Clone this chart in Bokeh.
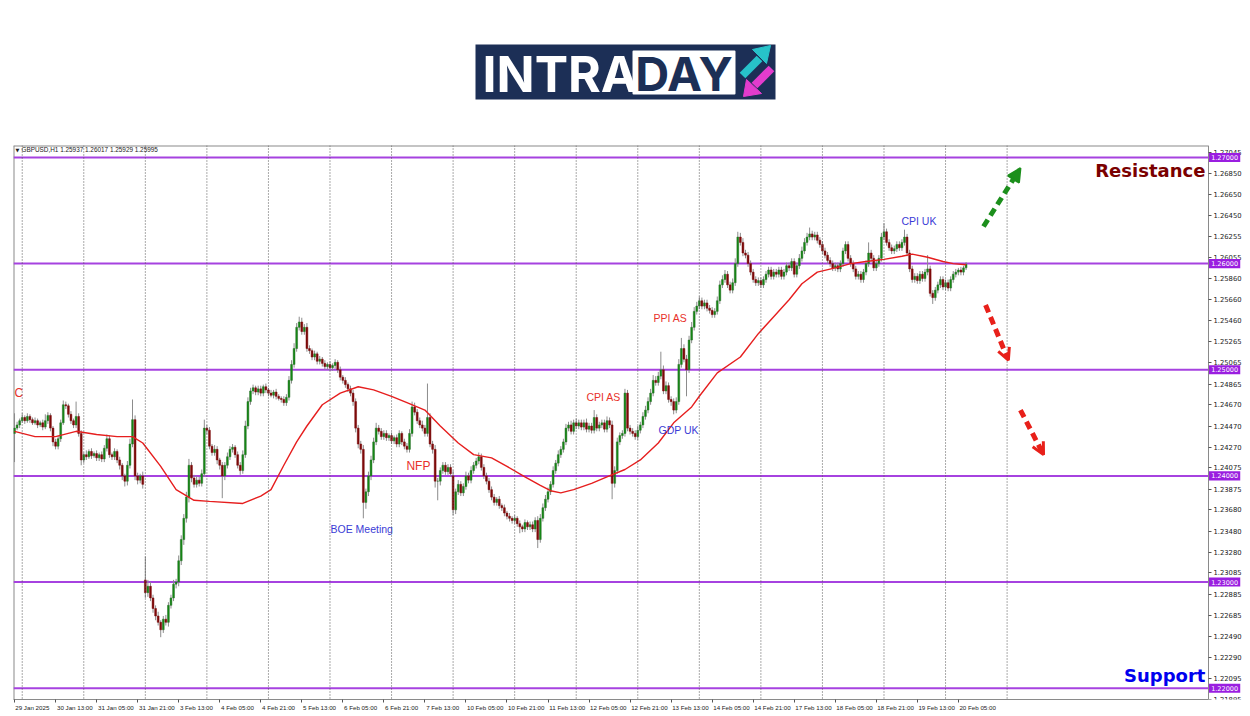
from bokeh.plotting import figure
from bokeh.models import Range1d, FixedTicker, NumeralTickFormatter, Span, Arrow, NormalHead, OpenHead, ColumnDataSource
from bokeh.layouts import column
from bokeh.embed import file_html
from bokeh.resources import INLINE
from bokeh.core.properties import value

# ---------------- data (GBPUSD H1) ----------------
closes = [
    1.2445, 1.2448, 1.2452, 1.2455, 1.2452, 1.2456, 1.2453, 1.2450, 1.2452, 1.2448, 1.2450, 1.2446,
    1.2452, 1.2457, 1.2445, 1.2432, 1.2428, 1.2435, 1.2450, 1.2467, 1.2466, 1.2458, 1.2452, 1.2448,
    1.2456, 1.2440, 1.2415, 1.2420, 1.2418, 1.2423, 1.2419, 1.2421, 1.2417, 1.2420, 1.2416, 1.2426,
    1.2435, 1.2420, 1.2418, 1.2423, 1.2415, 1.2410, 1.2400, 1.2395, 1.2410, 1.2430, 1.2453, 1.2400,
    1.2396, 1.2400, 1.2392, 1.2290, 1.2296, 1.2285, 1.2275, 1.2268, 1.2262, 1.2255, 1.2265, 1.2262,
    1.2278, 1.2285, 1.2298, 1.2300, 1.2320, 1.2340, 1.2360, 1.2380, 1.2410, 1.2398, 1.2392, 1.2396,
    1.2393, 1.2402, 1.2445, 1.2443, 1.2428, 1.2422, 1.2425, 1.2415, 1.2410, 1.2400, 1.2410, 1.2418,
    1.2425, 1.2427, 1.2420, 1.2410, 1.2405, 1.2420, 1.2447, 1.2470, 1.2480, 1.2483, 1.2479, 1.2482,
    1.2478, 1.2484, 1.2481, 1.2478, 1.2476, 1.2479, 1.2475, 1.2473, 1.2472, 1.2469, 1.2474, 1.2490,
    1.2505, 1.2520, 1.2540, 1.2545, 1.2536, 1.2540, 1.2520, 1.2518, 1.2512, 1.2515, 1.2508, 1.2510,
    1.2506, 1.2503, 1.2505, 1.2502, 1.2504, 1.2507, 1.2500, 1.2493, 1.2490, 1.2486, 1.2482, 1.2478,
    1.2470, 1.2445, 1.2430, 1.2425, 1.2375, 1.2385, 1.2400, 1.2415, 1.2432, 1.2445, 1.2442, 1.2437,
    1.2440, 1.2436, 1.2438, 1.2433, 1.2436, 1.2430, 1.2440, 1.2432, 1.2428, 1.2425, 1.2440, 1.2465,
    1.2460, 1.2452, 1.2448, 1.2445, 1.2440, 1.2455, 1.2430, 1.2425, 1.2395, 1.2395, 1.2405, 1.2410,
    1.2404, 1.2408, 1.2402, 1.2368, 1.2385, 1.2392, 1.2384, 1.2390, 1.2400, 1.2396, 1.2405, 1.2410,
    1.2414, 1.2418, 1.2408, 1.2400, 1.2395, 1.2387, 1.2380, 1.2375, 1.2378, 1.2372, 1.2370, 1.2365,
    1.2362, 1.2360, 1.2358, 1.2360, 1.2355, 1.2352, 1.2350, 1.2356, 1.2352, 1.2354, 1.2350, 1.2358,
    1.2340, 1.2360, 1.2370, 1.2378, 1.2385, 1.2392, 1.2405, 1.2412, 1.2420, 1.2425, 1.2432, 1.2445,
    1.2448, 1.2442, 1.2450, 1.2447, 1.2450, 1.2446, 1.2450, 1.2444, 1.2447, 1.2443, 1.2455, 1.2445,
    1.2448, 1.2450, 1.2444, 1.2452, 1.2448, 1.2393, 1.2405, 1.2432, 1.2438, 1.2440, 1.2478, 1.2445,
    1.2442, 1.2440, 1.2437, 1.2443, 1.2448, 1.2456, 1.2462, 1.2470, 1.2478, 1.2490, 1.2488, 1.2494,
    1.2500, 1.2480, 1.2485, 1.2472, 1.2470, 1.2462, 1.2470, 1.2505, 1.2520, 1.2510, 1.2500, 1.2528,
    1.2540, 1.2555, 1.2560, 1.2565, 1.2560, 1.2563, 1.2558, 1.2556, 1.2552, 1.2555, 1.2565, 1.2580,
    1.2585, 1.2590, 1.2580, 1.2575, 1.2582, 1.2600, 1.2625, 1.2620, 1.2610, 1.2608, 1.2600, 1.2592,
    1.2585, 1.2582, 1.2584, 1.2580, 1.2585, 1.2590, 1.2594, 1.2588, 1.2592, 1.2590, 1.2594, 1.2588,
    1.2592, 1.2598, 1.2596, 1.2602, 1.2590, 1.2598, 1.2605, 1.2612, 1.2620, 1.2625, 1.2628, 1.2625,
    1.2627, 1.2622, 1.2618, 1.2612, 1.2608, 1.2603, 1.2600, 1.2596, 1.2598, 1.2595, 1.2600, 1.2612,
    1.2618, 1.2605, 1.2600, 1.2595, 1.2588, 1.2590, 1.2585, 1.2592, 1.2600, 1.2610, 1.2605, 1.2596,
    1.2600, 1.2605, 1.2625, 1.2630, 1.2620, 1.2615, 1.2612, 1.2614, 1.2618, 1.2615, 1.2620, 1.2625,
    1.2610, 1.2595, 1.2585, 1.2588, 1.2584, 1.2590, 1.2586, 1.2592, 1.2595, 1.2572, 1.2568, 1.2575,
    1.2580, 1.2585, 1.2578, 1.2582, 1.2577, 1.2585, 1.2590, 1.2592, 1.2594, 1.2592, 1.2596, 1.25995,
]
# opens that are not equal to the previous close (first bar and weekend gaps)
gap_opens = {0: 1.2440, 51: 1.2302, 171: 1.2400}
# wick lengths in pips above / below the body
upper_wick = [
    14,3,2,4,2,3,2,2,3,2,2,3,6,3,2,2,3,3,3,4,3,2,3,2,
    14,3,3,2,4,2,3,2,3,2,3,3,4,3,2,3,2,3,2,2,4,5,19,4,
    3,2,4,22,6,4,3,3,4,2,3,4,3,3,4,3,5,4,4,5,6,3,3,4,
    3,4,8,3,3,2,4,3,2,3,3,4,3,3,2,3,3,4,5,4,3,3,2,3,
    3,2,3,2,3,2,3,2,2,3,3,4,4,5,4,5,4,3,4,3,2,3,2,3,
    2,3,2,3,2,3,2,3,2,3,2,3,3,3,3,3,4,3,4,4,4,5,3,3,
    3,3,2,3,2,3,3,2,3,3,4,5,4,3,3,4,3,32,4,3,4,3,3,3,
    3,3,3,5,3,4,3,3,4,3,4,3,3,4,3,3,3,3,3,3,2,3,2,3,
    2,3,2,3,2,3,2,3,2,3,3,3,4,4,4,4,4,3,4,3,4,3,3,4,
    3,4,3,4,3,3,3,4,3,3,7,3,3,3,3,4,3,4,4,4,3,3,4,3,
    3,3,3,4,3,4,4,4,4,5,4,4,17,4,4,3,3,3,4,5,10,4,4,4,
    5,4,4,4,3,3,3,3,3,3,4,4,4,4,3,3,4,5,5,4,4,3,3,3,
    3,3,3,3,3,3,3,3,3,3,3,3,3,3,3,3,3,3,4,4,4,4,6,3,
    3,3,3,3,3,3,3,3,3,3,3,3,3,3,3,3,3,3,3,3,3,10,3,3,
    3,3,4,8,3,3,3,3,3,3,3,7,3,3,3,3,3,3,3,3,13,3,3,3,
    3,3,3,3,3,3,3,3,2,3,2,2,
]
lower_wick = [
    27,2,3,2,3,2,3,2,2,3,2,3,2,3,3,4,3,3,3,2,3,3,3,3,
    3,3,5,3,3,2,3,2,3,3,3,3,3,3,3,3,3,4,4,5,4,3,3,4,
    4,3,4,5,4,3,4,4,3,7,3,3,4,3,3,4,4,4,5,4,5,4,3,3,
    3,3,3,4,3,3,3,4,4,21,4,3,3,3,3,3,4,3,3,3,3,3,3,3,
    3,3,3,3,2,3,3,2,3,3,3,3,3,3,3,3,3,3,3,3,3,3,3,3,
    3,3,3,3,3,3,3,3,3,3,3,3,4,4,4,4,15,6,4,4,3,3,3,3,
    3,3,3,3,3,3,3,3,3,3,3,3,3,3,3,3,3,3,3,4,6,18,4,3,
    3,3,3,5,4,3,3,3,3,3,3,3,3,3,3,3,3,3,3,3,3,3,3,3,
    3,3,3,3,3,6,3,3,3,3,3,3,8,3,3,3,3,3,3,3,3,3,3,3,
    3,3,3,3,3,3,3,3,3,3,3,3,3,3,3,3,3,15,4,3,3,3,3,3,
    3,3,3,3,3,3,3,3,3,3,3,3,3,3,3,3,4,4,3,3,3,3,25,3,
    3,3,3,3,3,3,3,3,3,3,3,3,3,3,3,3,3,3,3,3,3,3,3,3,
    3,3,3,3,3,3,3,3,3,3,3,3,3,3,3,3,3,3,3,3,3,3,3,3,
    3,3,3,3,3,3,3,3,3,3,3,3,3,3,3,3,3,3,3,3,3,3,3,3,
    3,3,3,3,3,3,3,3,3,3,3,3,3,3,3,3,3,3,3,3,3,3,6,3,
    3,3,3,3,3,3,3,3,3,3,3,2,
]
# moving average (bar index, value)
ma_idx = [0, 8, 16, 24, 32, 40, 46, 50, 57, 63, 70, 76, 89, 96, 100, 105, 110, 114, 120, 127,
          134, 140, 147, 153, 160, 166, 173, 179, 186, 192, 199, 205, 209, 213, 218, 225, 231,
          238, 244, 251, 257, 264, 267, 274, 283, 290, 296, 302, 307, 313, 320, 326, 332, 339,
          346, 350, 356, 362, 366, 371]
ma_val = [1.2442, 1.2437, 1.2437, 1.2442, 1.2439, 1.2437, 1.2437, 1.2431, 1.2409, 1.2387,
          1.2377, 1.2376, 1.2374, 1.2381, 1.2387, 1.2410, 1.2432, 1.2447, 1.2467, 1.2478,
          1.2484, 1.2481, 1.2475, 1.2469, 1.2462, 1.2447, 1.2431, 1.2420, 1.2417, 1.2409,
          1.2399, 1.2391, 1.2386, 1.2384, 1.2387, 1.2393, 1.2399, 1.2406, 1.2415, 1.2431,
          1.2450, 1.2465, 1.2475, 1.2497, 1.2512, 1.2534, 1.2550, 1.2566, 1.2581, 1.2592,
          1.2596, 1.2600, 1.2602, 1.2604, 1.2607, 1.2609, 1.2606, 1.2602, 1.2600, 1.2599]

x_tick_idx = list(range(0, 369, 16))
x_tick_labels = ["29 Jan 2025", "30 Jan 13:00", "31 Jan 05:00", "31 Jan 21:00", "3 Feb 13:00",
                 "4 Feb 05:00", "4 Feb 21:00", "5 Feb 13:00", "6 Feb 05:00", "6 Feb 21:00",
                 "7 Feb 13:00", "10 Feb 05:00", "10 Feb 21:00", "11 Feb 13:00", "12 Feb 05:00",
                 "12 Feb 21:00", "13 Feb 13:00", "14 Feb 05:00", "14 Feb 21:00", "17 Feb 13:00",
                 "18 Feb 05:00", "18 Feb 21:00", "19 Feb 13:00", "20 Feb 05:00"]
y_ticks = [1.27045, 1.26850, 1.26650, 1.26450, 1.26255, 1.26055, 1.25860, 1.25660, 1.25460,
           1.25265, 1.25065, 1.24865, 1.24670, 1.24470, 1.24270, 1.24075, 1.23875, 1.23680,
           1.23480, 1.23280, 1.23085, 1.22885, 1.22685, 1.22490, 1.22290, 1.22095, 1.21895]
levels = [1.27, 1.26, 1.25, 1.24, 1.23, 1.22]
level_labels = ["1.27000", "1.26000", "1.25000", "1.24000", "1.23000", "1.22000"]

header = "GBPUSD,H1  1.25937 1.26017 1.25929 1.25995"
event_text = ["C", "BOE Meeting", "NFP", "CPI AS", "PPI AS", "GDP UK", "CPI UK"]
event_x = [0, 123.2, 152.8, 223, 249.1, 251.1, 345.8]
event_y = [1.2478, 1.2350, 1.2409, 1.2474, 1.2549, 1.2443, 1.2640]
event_color = ["#e8312a", "#3b3bd6", "#e8312a", "#e8312a", "#e8312a", "#3b3bd6", "#3b3bd6"]
event_size = ["12px", "10.5px", "12px", "10.5px", "10.5px", "10.5px", "10.5px"]

# forecast arrows: (x0, y0, x1, y1, color)
arrows = [(377.8, 1.2635, 392.2, 1.2690, "#1c8f1c"),
          (378.6, 1.2561, 387.5, 1.2509, "#e8201a"),
          (392.2, 1.2462, 401.2, 1.2420, "#e8201a")]

# ---------------- derived candle table ----------------
n = min(len(closes), len(upper_wick), len(lower_wick))
idx = list(range(n))
opens = [gap_opens[i] if i in gap_opens else closes[i - 1] for i in idx]
cl = closes[:n]
tops = [max(o, c) for o, c in zip(opens, cl)]
bots = [min(o, c) for o, c in zip(opens, cl)]
highs = [t + u / 10000 for t, u in zip(tops, upper_wick)]
lows = [b - l / 10000 for b, l in zip(bots, lower_wick)]
bull = [c >= o for o, c in zip(opens, cl)]

src_bull = ColumnDataSource(dict(x=[i for i in idx if bull[i]], top=[tops[i] for i in idx if bull[i]],
                                 bottom=[bots[i] for i in idx if bull[i]]))
src_bear = ColumnDataSource(dict(x=[i for i in idx if not bull[i]], top=[tops[i] for i in idx if not bull[i]],
                                 bottom=[bots[i] for i in idx if not bull[i]]))

W = 1250
LOGO_H = 145
CH_H = 571
PX_PER_BAR = 2.565
X0, X_AXIS, X1 = -0.4, 465.5, 481.9      # frame left, price-axis position, frame right (bar units)
Y0, Y1 = 1.21893, 1.27113

# MT4 style: time labels start at their tick -> centre each label half its width to the right
label_pos = [round(t + (len(s) * 3.05 / 2 + 1) / PX_PER_BAR, 3) for t, s in zip(x_tick_idx, x_tick_labels)]

# ---------------- logo figure (pixel coordinates) ----------------
lg = figure(width=W, height=LOGO_H, x_range=Range1d(13, 1250), y_range=Range1d(LOGO_H, 0),
            output_backend="svg", toolbar_location=None, x_axis_location=None, y_axis_location=None,
            min_border_left=13, min_border_right=0, min_border_top=0, min_border_bottom=0,
            outline_line_color=None)
lg.xgrid.visible = False
lg.ygrid.visible = False
navy = "#1c2f56"
lg.quad(left=[475], right=[775], top=[44], bottom=[99], fill_color=navy, line_color=None)
lg.quad(left=[633], right=[734], top=[51], bottom=[93], fill_color="white", line_color="white",
        line_width=2, line_join="round")
lg.text(x=[482], y=[73], text=["INTRA"], text_color="white", text_font=value("Inter"),
        text_font_style="bold", text_font_size="50px", text_baseline="middle", text_align="left")
lg.text(x=[683.5], y=[73], text=["DAY"], text_color=navy, text_font=value("Inter"),
        text_font_style="bold", text_font_size="47px", text_baseline="middle", text_align="center")
# cyan arrow (up-right)
lg.line(x=[742, 759], y=[75, 58], line_color="#27c2c9", line_width=8)
lg.patch(x=[770, 752, 766], y=[45, 49, 63], fill_color="#27c2c9", line_color="#27c2c9")
# magenta arrow (down-left)
lg.line(x=[771, 754], y=[68, 85], line_color="#e23ccd", line_width=8)
lg.patch(x=[743, 746, 761], y=[96, 79, 93], fill_color="#e23ccd", line_color="#e23ccd")

# ---------------- chart figure ----------------
p = figure(width=W, height=CH_H, x_range=Range1d(X0, X1), y_range=Range1d(Y0, Y1),
           output_backend="svg", toolbar_location=None, y_axis_location="right",
           min_border_left=13, min_border_top=0, min_border_right=0, min_border_bottom=17,
           background_fill_color="white", border_fill_color="white")
p.outline_line_color = None
p.xgrid.visible = False
p.ygrid.visible = False

for ax in (p.xaxis[0], p.yaxis[0]):
    ax.axis_line_color = "#8a8a8a"
    ax.major_tick_line_color = "#555555"
    ax.minor_tick_line_color = None
    ax.major_tick_in = 0
    ax.major_tick_out = 3
    ax.major_label_text_color = "#222222"

p.xaxis.bounds = (X0, X_AXIS)
p.xaxis.ticker = FixedTicker(ticks=label_pos, minor_ticks=x_tick_idx)
p.xaxis.major_label_overrides = {t: s for t, s in zip(label_pos, x_tick_labels)}
p.xaxis.major_tick_line_color = None
p.xaxis.minor_tick_line_color = "#555555"
p.xaxis.minor_tick_in = 0
p.xaxis.minor_tick_out = 3
p.xaxis.major_label_standoff = 1
p.xaxis.major_label_text_font = "Liberation Sans"
p.xaxis.major_label_text_font_size = "6.2px"

p.yaxis.fixed_location = X_AXIS
p.yaxis.ticker = FixedTicker(ticks=y_ticks)
p.yaxis.formatter = NumeralTickFormatter(format="0.00000")
p.yaxis.major_label_standoff = 2
p.yaxis.major_label_text_font = "DejaVu Sans"
p.yaxis.major_label_text_font_size = "6.8px"

# frame borders (left, top)
p.segment(x0=[X0, X0], y0=[Y0, Y1], x1=[X0, X_AXIS], y1=[Y1, Y1], line_color="#8a8a8a", line_width=2)

# vertical dotted grid
for gx in range(3, 388, 24):
    p.add_layout(Span(location=gx, dimension="height", line_color="#555555", line_width=1,
                      line_dash="1 2"))

# level lines
p.segment(x0=[X0] * len(levels), y0=levels, x1=[X_AXIS] * len(levels), y1=levels,
          line_color="#a642e0", line_width=2)

# candles
p.segment(x0=idx, y0=highs, x1=idx, y1=lows, line_color="#8c8c8c", line_width=1)
p.vbar(x="x", top="top", bottom="bottom", width=0.72, source=src_bull,
       fill_color="#128a12", line_color="#2f6e2f", line_width=0.5)
p.vbar(x="x", top="top", bottom="bottom", width=0.72, source=src_bear,
       fill_color="#7d0a0a", line_color="#7d0a0a", line_width=0.5)

# moving average
p.line(x=ma_idx, y=ma_val, line_color="#e61e1e", line_width=1.4)

# header
p.text(x=[0.4], y=[1.27072], text=["\u25bc"], text_font=value("DejaVu Sans"), text_font_size="5px",
       text_baseline="middle", text_color="#222222")
p.text(x=[2.7], y=[1.27072], text=[header], text_font=value("Liberation Sans"), text_font_size="6.4px",
       text_baseline="middle", text_color="#222222")

# events
for t, ex, ey, ec, es in zip(event_text, event_x, event_y, event_color, event_size):
    p.text(x=[ex], y=[ey], text=[t], text_color=ec, text_font=value("Liberation Sans"),
           text_font_size=es, text_baseline="middle", text_align="left")

p.text(x=[464.3], y=[1.26878], text=["Resistance"], text_color="#7a0000", text_font=value("DejaVu Sans"),
       text_font_style="bold", text_font_size="18px", text_baseline="middle", text_align="right")
p.text(x=[464.3], y=[1.22122], text=["Support"], text_color="#0000ee", text_font=value("DejaVu Sans"),
       text_font_style="bold", text_font_size="18px", text_baseline="middle", text_align="right")

# arrows
for x0, y0, x1, y1, col in arrows:
    if col == "#1c8f1c":
        head = NormalHead(size=13, fill_color=col, line_color=col, line_width=2)
    else:
        head = OpenHead(size=12, line_color=col, line_width=3)
    p.add_layout(Arrow(end=head, x_start=x0, y_start=y0, x_end=x1, y_end=y1,
                       line_color=col, line_width=5, line_dash="8 5"))

# level price tags on the price axis
tag_x = X_AXIS + 6.3
p.rect(x=[tag_x] * len(levels), y=levels, width=12.2, height=0.00085, fill_color="#9a1ee0",
       line_color=None, level="overlay")
p.text(x=[tag_x] * len(levels), y=levels, text=level_labels, text_color="white",
       text_font=value("DejaVu Sans"), text_font_size="6.5px", text_align="center",
       text_baseline="middle", level="overlay")

layout = column(lg, p, spacing=0)
open("out.html", "w").write(file_html(layout, INLINE))
